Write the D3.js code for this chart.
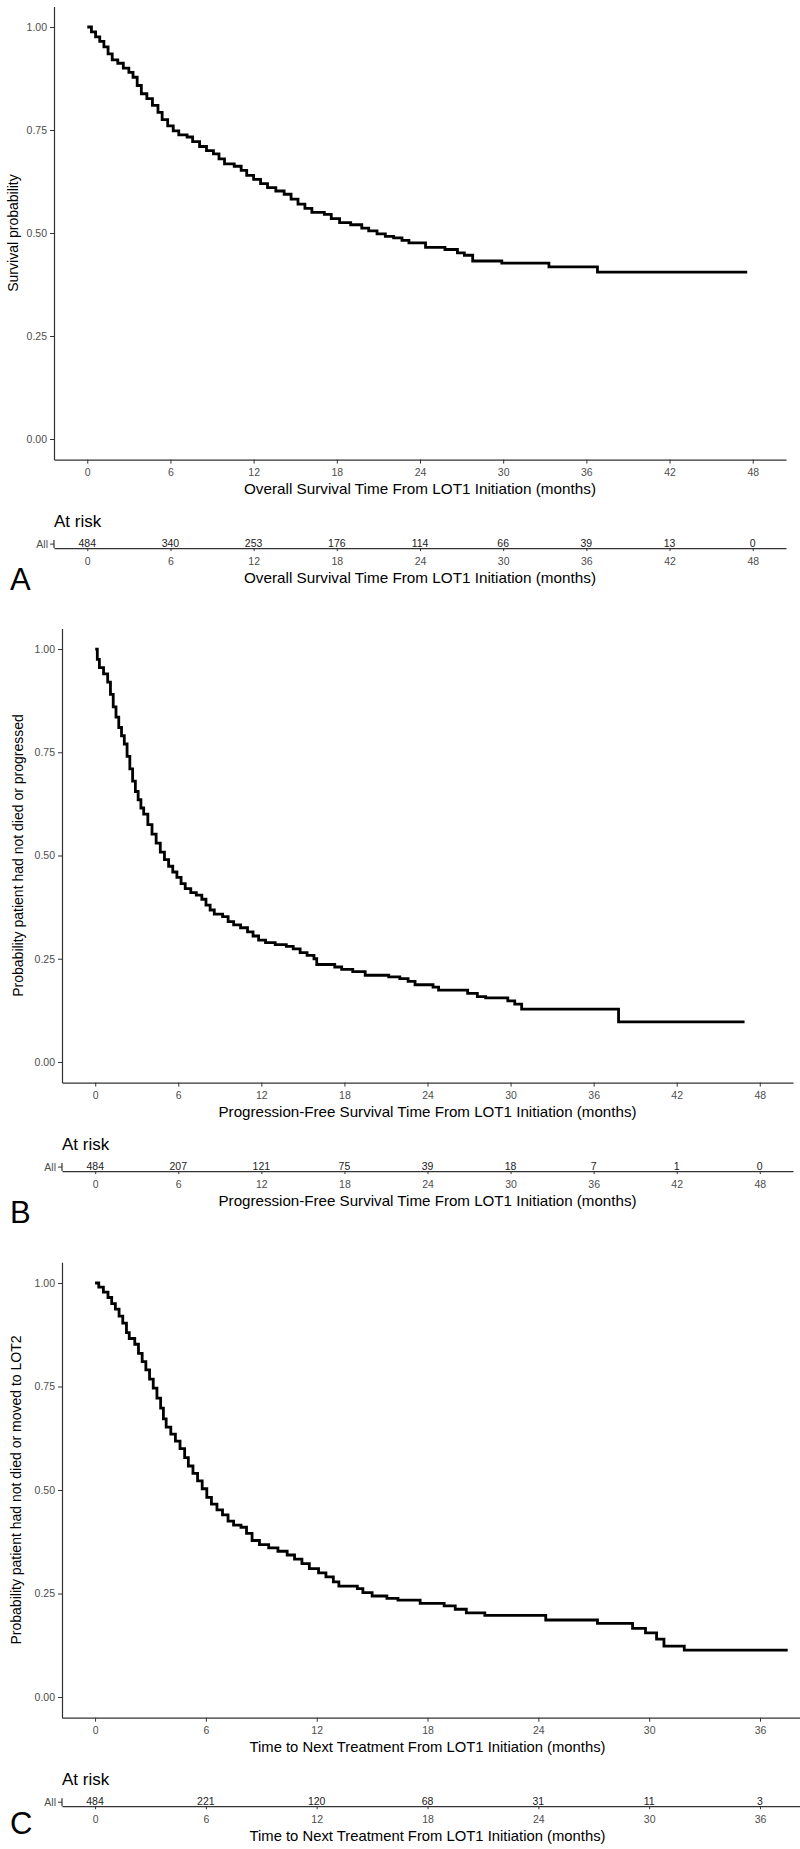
<!DOCTYPE html>
<html><head><meta charset="utf-8">
<script src="https://cdn.jsdelivr.net/npm/d3@7"></script>
<style>
body{margin:0;background:#fff}
svg{display:block;font-family:"Liberation Sans",Arial,Helvetica,sans-serif}
</style>
</head><body>
<svg id="chart" width="800" height="1849"></svg>
<script>
// ---------------- data ----------------
const breaksAB = [0, 6, 12, 18, 24, 30, 36, 42, 48];
const breaksC = [0, 6, 12, 18, 24, 30, 36];
const probTicks = [0, 0.25, 0.5, 0.75, 1];
const probTickLabels = ["0.00", "0.25", "0.50", "0.75", "1.00"];
const strataLabel = "All";

// Panel A: overall survival (Kaplan–Meier step points)
const osTime = [0,0.3,0.6,0.9,1.2,1.5,1.8,2.2,2.6,3.0,3.3,3.6,3.9,4.3,4.7,5.1,5.4,5.8,6.2,6.6,7.2,7.6,8.1,8.6,9.1,9.5,9.9,10.6,11.1,11.5,12.0,12.5,13.0,13.6,14.2,14.7,15.2,15.7,16.2,17.1,17.6,18.2,19.0,19.8,20.3,20.9,21.5,22.1,22.7,23.2,24.4,25.8,26.7,27.2,27.8,29.9,33.3,36.8,47.6];
const osSurv = [1.000,0.988,0.976,0.965,0.952,0.935,0.920,0.912,0.900,0.890,0.878,0.858,0.838,0.826,0.810,0.793,0.775,0.760,0.748,0.738,0.733,0.722,0.710,0.700,0.692,0.680,0.668,0.662,0.652,0.640,0.630,0.620,0.610,0.602,0.594,0.582,0.570,0.560,0.550,0.545,0.535,0.525,0.520,0.512,0.505,0.498,0.492,0.488,0.482,0.476,0.465,0.460,0.452,0.446,0.432,0.427,0.418,0.405,0.405];
const osAtRisk = [484, 340, 253, 176, 114, 66, 39, 13, 0];

// Panel B: progression-free survival
const pfsTime = [0,0.15,0.3,0.6,0.9,1.1,1.3,1.5,1.7,1.9,2.1,2.3,2.5,2.7,2.9,3.1,3.3,3.5,3.8,4.1,4.4,4.7,5.0,5.3,5.6,5.9,6.2,6.5,6.9,7.3,7.7,8.0,8.3,8.6,9.2,9.6,10.0,10.5,11.0,11.4,11.8,12.3,13.0,13.8,14.3,14.8,15.3,15.8,16.0,17.3,17.8,18.6,19.5,21.2,22.0,22.6,23.1,24.4,24.8,26.9,27.6,28.2,29.8,30.3,30.8,37.8,46.9];
const pfsSurv = [1.000,0.975,0.955,0.940,0.920,0.890,0.860,0.835,0.810,0.790,0.770,0.740,0.710,0.680,0.655,0.635,0.615,0.600,0.575,0.552,0.530,0.508,0.490,0.474,0.460,0.447,0.432,0.420,0.410,0.404,0.394,0.380,0.368,0.358,0.352,0.340,0.332,0.325,0.315,0.305,0.295,0.289,0.284,0.280,0.274,0.265,0.258,0.250,0.236,0.230,0.224,0.219,0.210,0.206,0.202,0.195,0.187,0.181,0.174,0.166,0.158,0.155,0.148,0.140,0.128,0.097,0.097];
const pfsAtRisk = [484, 207, 121, 75, 39, 18, 7, 1, 0];

// Panel C: time to next treatment
const ttntTime = [0,0.2,0.45,0.7,0.9,1.1,1.3,1.5,1.7,1.85,2.15,2.35,2.55,2.75,2.95,3.15,3.35,3.55,3.7,3.85,4.1,4.35,4.6,4.85,5.05,5.3,5.55,5.8,6.05,6.3,6.6,6.9,7.2,7.5,7.9,8.2,8.5,8.9,9.4,9.9,10.4,10.8,11.2,11.6,12.1,12.5,12.9,13.2,14.2,14.5,15.0,15.8,16.4,17.6,18.9,19.5,20.1,21.1,24.4,27.2,29.1,29.8,30.4,30.8,31.9,37.5];
const ttntSurv = [1.000,0.990,0.978,0.965,0.950,0.937,0.920,0.903,0.880,0.866,0.852,0.830,0.810,0.790,0.768,0.746,0.722,0.698,0.672,0.652,0.635,0.618,0.600,0.578,0.558,0.540,0.522,0.503,0.482,0.466,0.452,0.440,0.425,0.415,0.410,0.395,0.378,0.368,0.360,0.352,0.343,0.333,0.322,0.310,0.300,0.290,0.278,0.268,0.262,0.252,0.244,0.238,0.234,0.226,0.220,0.212,0.203,0.197,0.186,0.178,0.166,0.155,0.140,0.123,0.113,0.113];
const ttntAtRisk = [484, 221, 120, 68, 31, 11, 3];

const yTitles = ["Survival probability", "Probability patient had not died or progressed", "Probability patient had not died or moved to LOT2"];
const xTitles = ["Overall Survival Time From LOT1 Initiation (months)", "Progression-Free Survival Time From LOT1 Initiation (months)", "Time to Next Treatment From LOT1 Initiation (months)"];
const panelLetters = ["A", "B", "C"];

// ---------------- layout ----------------
const svg = d3.select("#chart");
const AXIS_COL = "#333333", TICK_TXT = "#4d4d4d";

const panels = [
  {time: osTime, surv: osSurv, risk: osAtRisk, breaks: breaksAB, xDomain: [-2.4, 50.4],
   left: 54, right: 786, top: 6.4, bottom: 459.6, yTitleX: 18, letterY: 590, titleW: 352, i: 0},
  {time: pfsTime, surv: pfsSurv, risk: pfsAtRisk, breaks: breaksAB, xDomain: [-2.4, 50.4],
   left: 62, right: 793, top: 628.4, bottom: 1082.6, yTitleX: 23, letterY: 1223, titleW: 418, i: 1},
  {time: ttntTime, surv: ttntSurv, risk: ttntAtRisk, breaks: breaksC, xDomain: [-1.79, 39.6],
   left: 62, right: 826.5, top: 1262.3, bottom: 1717.7, yTitleX: 21, letterY: 1834, titleW: 356, i: 2}
];

function styleAxis(g) {
  g.attr("font-family", null).attr("font-size", null);
  g.select(".domain").attr("stroke", AXIS_COL).attr("stroke-width", 1.2);
  g.selectAll(".tick line").attr("stroke", AXIS_COL).attr("stroke-width", 1);
  g.selectAll(".tick text").attr("fill", TICK_TXT).style("font-size", "10.5px");
}

panels.forEach(p => {
  const x = d3.scaleLinear().domain(p.xDomain).range([p.left, p.right]);
  const y = d3.scaleLinear().domain([-0.05, 1.05]).range([p.bottom, p.top]);
  const g = svg.append("g");

  // y axis
  const ya = g.append("g").attr("transform", `translate(${p.left},0)`)
    .call(d3.axisLeft(y).tickValues(probTicks).tickFormat((d, i) => probTickLabels[i])
      .tickSize(4).tickSizeOuter(0).tickPadding(3));
  styleAxis(ya);

  // x axis
  const xa = g.append("g").attr("transform", `translate(0,${p.bottom})`)
    .call(d3.axisBottom(x).tickValues(p.breaks).tickSize(4).tickSizeOuter(0));
  styleAxis(xa);
  xa.selectAll(".tick text").attr("y", 16).attr("dy", null);

  // KM curve
  const pts = p.time.map((t, k) => [t, p.surv[k]]);
  g.append("path").datum(pts)
    .attr("fill", "none").attr("stroke", "#000").attr("stroke-width", 2.8)
    .attr("stroke-linejoin", "miter")
    .attr("d", d3.line().x(d => x(d[0])).y(d => y(d[1])).curve(d3.curveStepAfter));

  // titles
  const xCenter = p.i === 2 ? (p.left + 793) / 2 : (p.left + p.right) / 2;
  function xTitle(yy) {
    g.append("text").attr("x", xCenter).attr("y", yy)
      .attr("text-anchor", "middle").style("font-size", "14.5px").attr("fill", "#000")
      .attr("textLength", p.titleW).attr("lengthAdjust", "spacingAndGlyphs")
      .text(xTitles[p.i]);
  }
  xTitle(p.bottom + 34.5);
  g.append("text")
    .attr("transform", `translate(${p.yTitleX},${(p.top + p.bottom) / 2}) rotate(-90)`)
    .attr("text-anchor", "middle").style("font-size", "14px").attr("fill", "#000")
    .text(yTitles[p.i]);

  // risk table
  const rl = p.bottom + 88.5;
  g.append("text").attr("x", p.left).attr("y", p.bottom + 67)
    .style("font-size", "17px").attr("fill", "#000").text("At risk");
  const ra = g.append("g").attr("transform", `translate(0,${rl})`)
    .call(d3.axisBottom(x).tickValues(p.breaks).tickSize(3).tickSizeOuter(0));
  styleAxis(ra);
  ra.selectAll(".tick text").attr("y", 17).attr("dy", null);
  // risk y-axis (single stratum)
  g.append("line").attr("x1", p.left).attr("x2", p.left).attr("y1", rl - 8).attr("y2", rl)
    .attr("stroke", AXIS_COL).attr("stroke-width", 1.2);
  g.append("line").attr("x1", p.left - 4).attr("x2", p.left).attr("y1", rl - 4).attr("y2", rl - 4)
    .attr("stroke", AXIS_COL).attr("stroke-width", 1);
  g.append("text").attr("x", p.left - 6).attr("y", rl - 0.5).attr("text-anchor", "end")
    .style("font-size", "10.5px").attr("fill", TICK_TXT).text(strataLabel);
  g.selectAll(".risknum").data(p.risk).enter().append("text")
    .attr("x", (d, k) => x(p.breaks[k])).attr("y", rl - 1)
    .attr("text-anchor", "middle").style("font-size", "10.5px").attr("fill", "#222")
    .text(d => d);
  xTitle(rl + 35);

  // panel letter
  g.append("text").attr("x", 10).attr("y", p.letterY)
    .style("font-size", "31px").attr("fill", "#000").text(panelLetters[p.i]);
});
</script>
</body></html>
